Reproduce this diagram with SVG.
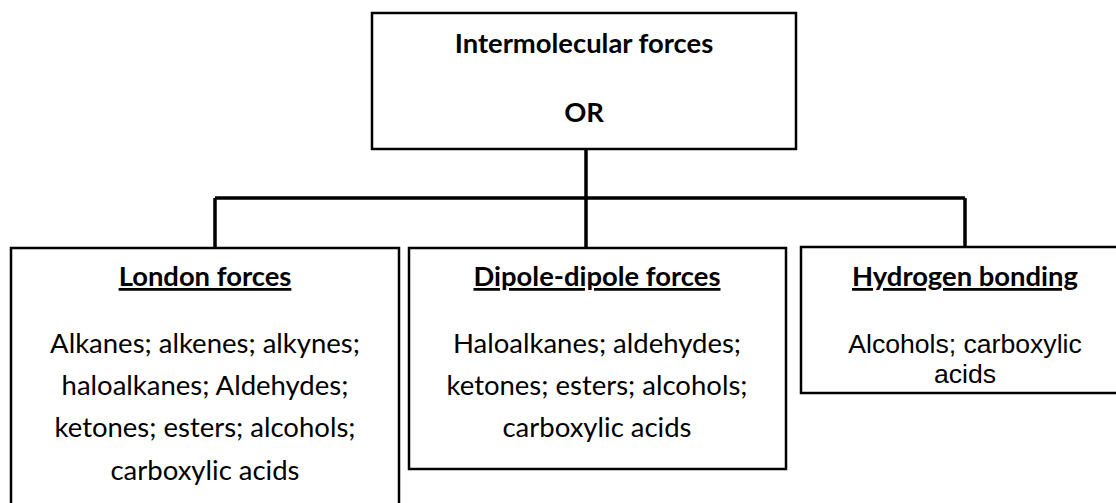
<svg xmlns="http://www.w3.org/2000/svg" width="1116" height="503" viewBox="0 0 1116 503">
<style>
.box{fill:#fff;stroke:#000;stroke-width:2.5}
.con{fill:none;stroke:#000;stroke-width:3.5}
.h{font-family:Lato,"Open Sans",sans-serif;font-weight:bold;font-size:27.4px;text-anchor:middle;fill:#000}
.u{text-decoration:underline}
.b{font-family:Lato,"Open Sans",sans-serif;font-size:27.5px;text-anchor:middle;fill:#000}
.a{font-family:"Liberation Sans",Arial,sans-serif;font-size:26.6px;text-anchor:middle;fill:#000}
</style>
<rect width="1116" height="503" fill="#fff"/>
<g id="connectors">
<path class="con" d="M586 150V198M215 198H965M215 198V248M586 198V248M965 198V248"/>
</g>
<g id="top">
<rect class="box" x="372" y="13" width="424" height="136"/>
<text class="h" x="584" y="53">Intermolecular forces</text>
<text class="h" x="584" y="122">OR</text>
</g>
<g id="london">
<rect class="box" x="11" y="248" width="388" height="280"/>
<text class="h u" x="205" y="286">London forces</text>
<text class="b" x="205" y="353">Alkanes; alkenes; alkynes;</text>
<text class="b" x="205" y="395">haloalkanes; Aldehydes;</text>
<text class="b" x="205" y="437">ketones; esters; alcohols;</text>
<text class="b" x="205" y="480">carboxylic acids</text>
</g>
<g id="dipole">
<rect class="box" x="409" y="248" width="377" height="221"/>
<text class="h u" x="597" y="286">Dipole-dipole forces</text>
<text class="b" x="597" y="353">Haloalkanes; aldehydes;</text>
<text class="b" x="597" y="395">ketones; esters; alcohols;</text>
<text class="b" x="597" y="437">carboxylic acids</text>
</g>
<g id="hydrogen">
<rect class="box" x="801" y="247" width="325" height="146"/>
<text class="h u" x="965" y="286">Hydrogen bonding</text>
<text class="a" x="965" y="353">Alcohols; carboxylic</text>
<text class="a" x="965" y="383">acids</text>
</g>
</svg>
